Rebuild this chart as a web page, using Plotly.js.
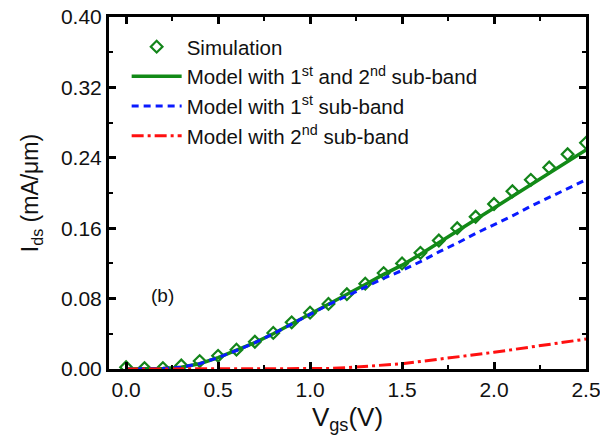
<!DOCTYPE html>
<html>
<head>
<meta charset="utf-8">
<script src="https://cdn.plot.ly/plotly-3.0.1.min.js"></script>
<style>html,body{margin:0;padding:0;background:#fff;}#chart{width:600px;height:435px;}</style>
</head>
<body>
<div id="chart"></div>
<script>
// Gate voltage samples (V)
const vgs = [0.0,0.1,0.2,0.3,0.4,0.5,0.6,0.7,0.8,0.9,1.0,1.1,1.2,1.3,1.4,1.5,1.6,1.7,1.8,1.9,2.0,2.1,2.2,2.3,2.4,2.5];
// Simulation (mA/um)
const simulation = [0.002,0.001,0.001,0.004,0.009,0.015,0.022,0.031,0.041,0.053,0.064,0.074,0.085,0.097,0.109,0.120,0.132,0.146,0.160,0.173,0.1875,0.202,0.215,0.229,0.244,0.257];
// Model with 1st and 2nd sub-band
const modelBoth = [0,0,0.0005,0.002,0.006,0.013,0.021,0.030,0.040,0.051,0.062,0.0735,0.0845,0.096,0.1075,0.118,0.1305,0.144,0.1565,0.170,0.183,0.196,0.210,0.223,0.236,0.249];
// Model with 1st sub-band
const model1st = [0,0,0.0005,0.002,0.006,0.013,0.021,0.030,0.040,0.051,0.062,0.073,0.083,0.093,0.103,0.112,0.122,0.133,0.143,0.154,0.164,0.174,0.185,0.195,0.205,0.215];
// Model with 2nd sub-band
const model2nd = [0,0,0,0,0,0,0,0,0,0,0,0.0005,0.0015,0.003,0.0045,0.006,0.0085,0.011,0.0135,0.016,0.019,0.022,0.025,0.028,0.031,0.034];

const xTickVals = [0.0,0.5,1.0,1.5,2.0,2.5];
const xTickText = ['0.0','0.5','1.0','1.5','2.0','2.5'];
const yTickVals = [0.00,0.08,0.16,0.24,0.32,0.40];
const yTickText = ['0.00','0.08','0.16','0.24','0.32','0.40'];

const FONT = 'Arial, "Liberation Sans", Helvetica, sans-serif';

const traces = [
  {x: vgs, y: simulation, name: 'Simulation', mode: 'markers', type: 'scatter',
   marker: {symbol: 'diamond-open', size: 9, color: '#13851a', line: {width: 2.2, color: '#13851a'}}},
  {x: vgs, y: modelBoth, name: 'Model with 1<sup>st</sup> and 2<sup>nd</sup> sub-band', mode: 'lines', type: 'scatter',
   line: {color: '#128a17', width: 3.5}},
  {x: vgs, y: model1st, name: 'Model with 1<sup>st</sup> sub-band', mode: 'lines', type: 'scatter',
   line: {color: '#0a1aff', width: 3, dash: '7px,5px'}},
  {x: vgs, y: model2nd, name: 'Model with 2<sup>nd</sup> sub-band', mode: 'lines', type: 'scatter',
   line: {color: '#ff1010', width: 3, dash: '12px,4px,3px,4px'}}
];

const axisCommon = {
  showgrid: false, zeroline: false, showline: true, linecolor: '#000000', linewidth: 3,
  mirror: 'allticks', ticks: 'inside', ticklen: 7, tickwidth: 2.5, tickcolor: '#000000',
  tickfont: {family: FONT, size: 21, color: '#111'}, ticklabeloverflow: 'allow'
};

const layout = {
  width: 600, height: 435,
  margin: {l: 109, r: 14, t: 17, b: 66},
  paper_bgcolor: '#ffffff', plot_bgcolor: '#ffffff',
  font: {family: FONT, color: '#111'},
  showlegend: true,
  legend: {x: 0.037, y: 0.972, xanchor: 'left', yanchor: 'top', bgcolor: 'rgba(0,0,0,0)',
           font: {family: FONT, size: 20.5, color: '#111'}, itemwidth: 50, tracegroupgap: 0},
  xaxis: Object.assign({}, axisCommon, {
          range: [-0.093, 2.5], tickmode: 'array', tickvals: xTickVals, ticktext: xTickText,
          minor: {dtick: 0.25, tick0: 0, ticks: 'inside', ticklen: 4, tickwidth: 2, tickcolor: '#000000', showgrid: false},
          title: {text: 'V<sub>gs</sub>(V)', font: {family: FONT, size: 26, color: '#111'}, standoff: 8}}),
  yaxis: Object.assign({}, axisCommon, {
          range: [0, 0.40], tickmode: 'array', tickvals: yTickVals, ticktext: yTickText,
          minor: {dtick: 0.04, tick0: 0, ticks: 'inside', ticklen: 4, tickwidth: 2, tickcolor: '#000000', showgrid: false},
          title: {text: 'I<sub>ds</sub> (mA/\u03bcm)', font: {family: FONT, size: 23, color: '#111'}, standoff: 16}}),
  annotations: [
    {x: 0.2, y: 0.083, xref: 'x', yref: 'y', text: '(b)', showarrow: false,
     font: {family: FONT, size: 19, color: '#111'}}
  ]
};

Plotly.newPlot('chart', traces, layout, {displayModeBar: false});
</script>
</body>
</html>
